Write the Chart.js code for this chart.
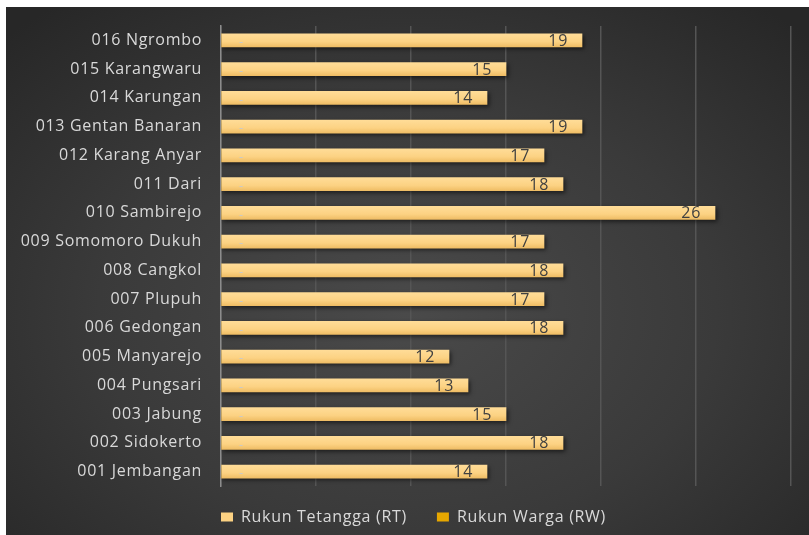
<!DOCTYPE html>
<html>
<head>
<meta charset="utf-8">
<script src="https://cdn.jsdelivr.net/npm/chart.js@4"></script>
<style>
  html, body { margin: 0; padding: 0; background: #fff; }
  #wrap {
    position: absolute; left: 6px; top: 7px; width: 803px; height: 528px;
    background: radial-gradient(ellipse 70% 75% at 50% 58%, #4a4a4a 0%, #3a3a3a 55%, #272727 100%);
  }
  canvas { display: block; }
</style>
</head>
<body>
<div id="wrap"><canvas id="grafico"></canvas></div>
<script>
// Data desa (dari atas ke bawah seperti di gambar)
const kategori = [
  '016 Ngrombo', '015 Karangwaru', '014 Karungan', '013 Gentan Banaran',
  '012 Karang Anyar', '011 Dari', '010 Sambirejo', '009 Somomoro Dukuh',
  '008 Cangkol', '007 Plupuh', '006 Gedongan', '005 Manyarejo',
  '004 Pungsari', '003 Jabung', '002 Sidokerto', '001 Jembangan'
];
const nilaiRT = [19, 15, 14, 19, 17, 18, 26, 17, 18, 17, 18, 12, 13, 15, 18, 14];
const nilaiRW = [0, 0, 0, 0, 0, 0, 0, 0, 0, 0, 0, 0, 0, 0, 0, 0];
const ticksX = [0, 5, 10, 15, 20, 25, 30];

const FONT = '"Open Sans", Lato, sans-serif';

// gradient batang per baris
function gradienBatang(c) {
  const chart = c.chart;
  if (!chart.chartArea) return '#fcd283';
  const y = chart.scales.y.getPixelForValue(c.dataIndex);
  const g = chart.ctx.createLinearGradient(0, y - 6.5, 0, y + 6.5);
  g.addColorStop(0, '#ffdc97');
  g.addColorStop(0.6, '#fcd283');
  g.addColorStop(1, '#efbd65');
  return g;
}

// huruf sedikit lebih renggang + atur posisi legenda
const atur = {
  id: 'atur',
  beforeUpdate(chart) { chart.ctx.letterSpacing = '0.7px'; },
  beforeLayout(chart) {
    const lg = chart.legend;
    if (lg && !lg._dipatch) {
      const fitAsli = lg.fit;
      lg.fit = function () { fitAsli.call(this); this.height -= 9; };
      lg._dipatch = true;
    }
  },
  afterLayout(chart) {
    const lg = chart.legend;
    lg.left += 15; lg.right += 15;
    lg.top -= 9; lg.bottom -= 9;
  },
  beforeDraw(chart) { chart.ctx.letterSpacing = '0.7px'; }
};

// bayangan di bawah batang
const bayangan = {
  id: 'bayangan',
  beforeDatasetDraw(chart) {
    const ctx = chart.ctx;
    ctx.save();
    ctx.shadowColor = 'rgba(0,0,0,0.55)';
    ctx.shadowBlur = 4;
    ctx.shadowOffsetX = 2;
    ctx.shadowOffsetY = 2;
  },
  afterDatasetDraw(chart) {
    chart.ctx.restore();
  }
};

// label angka di ujung dalam batang
const labelData = {
  id: 'labelData',
  afterDatasetsDraw(chart) {
    const ctx = chart.ctx;
    ctx.save();
    chart.getDatasetMeta(0).data.forEach((bar, i) => {
      ctx.font = '16px ' + FONT;
      ctx.fillStyle = '#404040';
      ctx.textAlign = 'right';
      ctx.textBaseline = 'middle';
      ctx.fillText(String(nilaiRT[i]), bar.x - 14, bar.y + 1);
    });
    chart.getDatasetMeta(1).data.forEach((bar, i) => {
      ctx.font = '13px ' + FONT;
      ctx.fillStyle = '#c9c9c9';
      ctx.textAlign = 'left';
      ctx.textBaseline = 'middle';
      ctx.fillText(nilaiRW[i] === 0 ? '-' : String(nilaiRW[i]), bar.base + 18, bar.y + 2);
    });
    ctx.restore();
  }
};

new Chart(document.getElementById('grafico'), {
  type: 'bar',
  data: {
    labels: kategori,
    datasets: [
      {
        label: 'Rukun Tetangga (RT)',
        data: nilaiRT,
        backgroundColor: gradienBatang,
        borderWidth: 0,
        barThickness: 13,
        grouped: false,
        order: 1
      },
      {
        label: 'Rukun Warga (RW)',
        data: nilaiRW,
        backgroundColor: '#e6a700',
        borderWidth: 0,
        barThickness: 13,
        grouped: false,
        order: 2
      }
    ]
  },
  options: {
    indexAxis: 'y',
    responsive: true,
    maintainAspectRatio: false,
    animation: false,
    layout: { padding: { top: 19, right: 18, left: 0, bottom: 0 } },
    plugins: {
      tooltip: { enabled: false },
      legend: {
        position: 'bottom',
        labels: {
          color: '#d9d9d9',
          font: { family: FONT, size: 16 },
          boxWidth: 12,
          boxHeight: 9,
          padding: 30,
          generateLabels(chart) {
            return chart.data.datasets.map((d, i) => ({
              text: d.label,
              fillStyle: i === 0 ? '#fcd283' : '#e6a700',
              strokeStyle: 'rgba(0,0,0,0)',
              lineWidth: 0,
              fontColor: '#d9d9d9',
              datasetIndex: i
            }));
          }
        }
      }
    },
    scales: {
      x: {
        min: 0,
        max: 30,
        afterBuildTicks(scale) { scale.ticks = ticksX.map(v => ({ value: v })); },
        ticks: { display: false },
        grid: { color: '#555555', lineWidth: 1.5, drawTicks: false },
        border: { display: false },
        afterFit(scale) { scale.height = 2; }
      },
      y: {
        ticks: {
          color: '#d9d9d9',
          font: { family: FONT, size: 16 },
          padding: 19
        },
        grid: { display: false, drawTicks: false },
        border: { display: true, color: '#8c8c8c', width: 1.5 },
        afterFit(scale) {
          scale.width = 215;
          scale.paddingTop = 0;
          scale.paddingBottom = 0;
        }
      }
    }
  },
  plugins: [atur, bayangan, labelData]
});
</script>
</body>
</html>
